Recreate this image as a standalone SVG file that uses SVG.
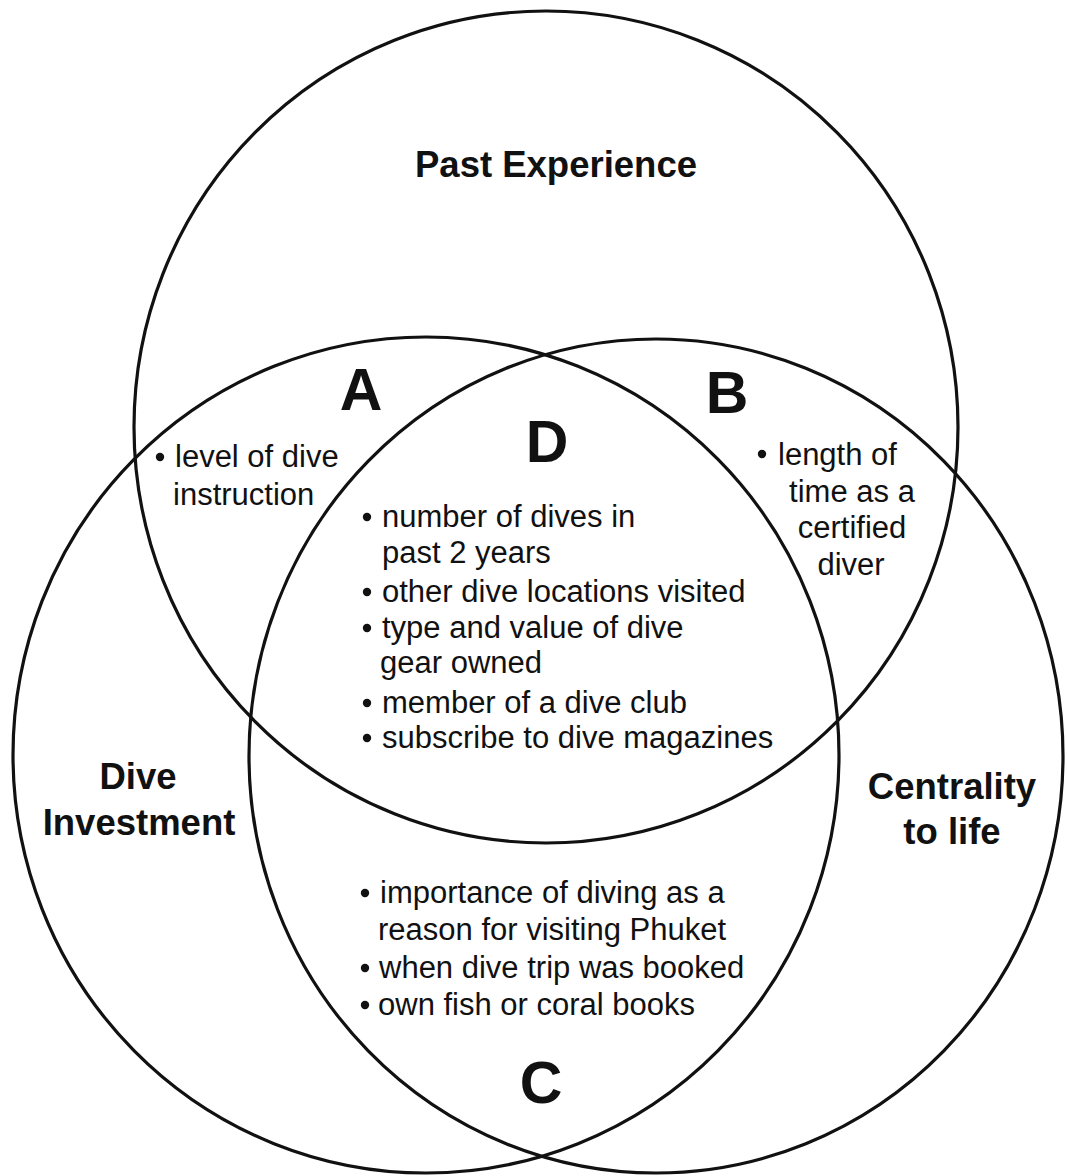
<svg xmlns="http://www.w3.org/2000/svg" width="1067" height="1176" viewBox="0 0 1067 1176">
  <style>
    .ring { fill: none; stroke: #111; stroke-width: 3.2; }
    .title { font-family: "Liberation Sans", Arial, sans-serif; font-weight: bold; font-size: 36.5px; fill: #111; text-anchor: middle; }
    .zone { font-family: "Liberation Sans", Arial, sans-serif; font-weight: bold; font-size: 59px; fill: #111; text-anchor: middle; }
    .item { font-family: "Liberation Sans", Arial, sans-serif; font-size: 31px; fill: #111; }
    .mid { text-anchor: middle; }
    .dot { fill: #111; }
  </style>
  <rect width="1067" height="1176" fill="#ffffff"/>

  <!-- the three overlapping sets -->
  <g id="past-experience">
    <ellipse class="ring" cx="546" cy="427" rx="412" ry="416"/>
    <text class="title" x="556" y="177">Past Experience</text>
  </g>
  <g id="dive-investment">
    <ellipse class="ring" cx="426" cy="755" rx="413" ry="418"/>
    <text class="title" x="138" y="789">Dive</text>
    <text class="title" x="139" y="835">Investment</text>
  </g>
  <g id="centrality-to-life">
    <ellipse class="ring" cx="656" cy="756" rx="407" ry="417"/>
    <text class="title" x="952" y="799">Centrality</text>
    <text class="title" x="952" y="844">to life</text>
  </g>

  <!-- region A: past experience and dive investment -->
  <g id="region-a">
    <text class="zone" x="361" y="410">A</text>
    <circle class="dot" cx="160" cy="457" r="4.2"/>
    <text class="item" x="175" y="467">level of dive</text>
    <text class="item" x="173" y="505">instruction</text>
  </g>

  <!-- region B: past experience and centrality to life -->
  <g id="region-b">
    <text class="zone" x="727" y="413">B</text>
    <circle class="dot" cx="762" cy="454" r="4.2"/>
    <text class="item" x="778" y="465">length of</text>
    <text class="item mid" x="852" y="502">time as a</text>
    <text class="item mid" x="852" y="538">certified</text>
    <text class="item mid" x="851" y="575">diver</text>
  </g>

  <!-- region D: all three sets -->
  <g id="region-d">
    <text class="zone" x="547" y="462">D</text>
    <circle class="dot" cx="367" cy="517" r="4.2"/>
    <text class="item" x="382" y="527">number of dives in</text>
    <text class="item" x="382" y="563">past 2 years</text>
    <circle class="dot" cx="367" cy="592" r="4.2"/>
    <text class="item" x="382" y="602">other dive locations visited</text>
    <circle class="dot" cx="367" cy="628" r="4.2"/>
    <text class="item" x="382" y="638">type and value of dive</text>
    <text class="item" x="380" y="673">gear owned</text>
    <circle class="dot" cx="367" cy="703" r="4.2"/>
    <text class="item" x="382" y="713">member of a dive club</text>
    <circle class="dot" cx="367" cy="738" r="4.2"/>
    <text class="item" x="382" y="748">subscribe to dive magazines</text>
  </g>

  <!-- region C: dive investment and centrality to life -->
  <g id="region-c">
    <text class="zone" x="541" y="1103">C</text>
    <circle class="dot" cx="365" cy="893" r="4.2"/>
    <text class="item" x="380" y="903">importance of diving as a</text>
    <text class="item" x="378" y="940">reason for visiting Phuket</text>
    <circle class="dot" cx="365" cy="968" r="4.2"/>
    <text class="item" x="379" y="978">when dive trip was booked</text>
    <circle class="dot" cx="365" cy="1005" r="4.2"/>
    <text class="item" x="378" y="1015">own fish or coral books</text>
  </g>

  <!-- no connectors in this diagram -->
  <g id="connectors"/>
</svg>
